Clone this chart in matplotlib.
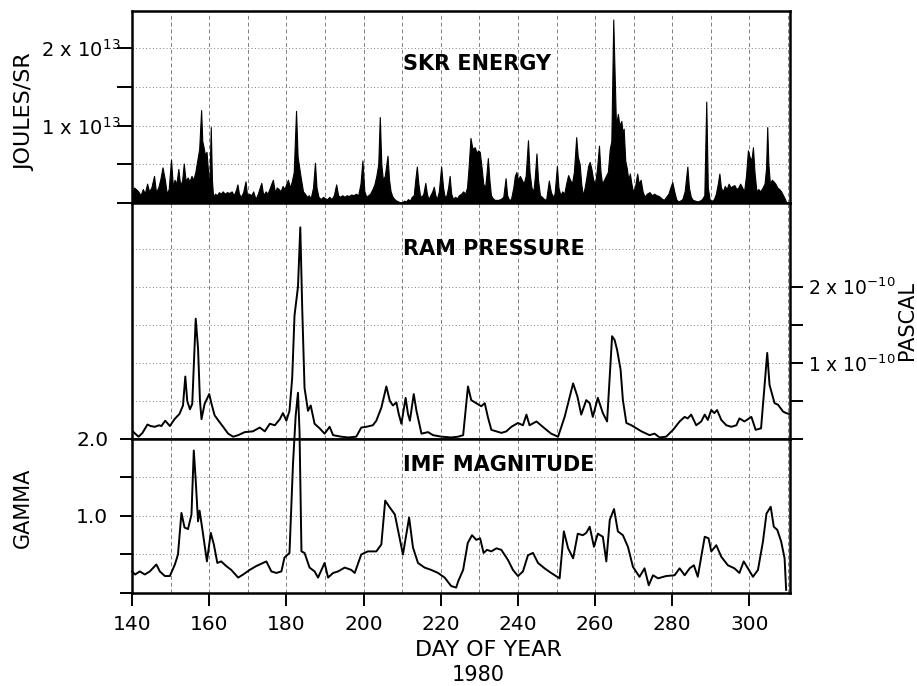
import numpy as np
import matplotlib
matplotlib.use("Agg")
import matplotlib.pyplot as plt

# ----------------- data ----------------- #

# SKR energy, units of 1e13 J/sr
skr_day = [140.0, 140.5, 141.0, 141.6, 142.2, 142.8, 143.3, 143.9, 144.4, 145.0, 145.7, 146.2, 146.8, 147.3,
           147.9, 148.5, 149.0, 149.5, 150.1, 150.6, 151.0, 151.5, 152.0, 152.5, 153.0, 153.4, 153.9, 154.4,
           154.9, 155.4, 155.9, 156.4, 156.9, 157.4, 157.9, 158.2, 158.5, 158.9, 159.3, 159.7, 160.0, 160.4,
           160.7, 161.0, 161.5, 162.0, 162.5, 163.0, 163.5, 164.0, 164.6, 165.2, 165.8, 166.4, 167.0, 167.3,
           167.7, 168.2, 168.8, 169.4, 169.8, 170.3, 170.9, 171.4, 172.0, 172.6, 173.1, 173.5, 174.0, 174.6,
           175.1, 175.6, 176.1, 176.5, 177.0, 177.5, 178.0, 178.5, 179.0, 179.5, 180.0, 180.4, 180.9, 181.4,
           181.9, 182.5, 182.9, 183.4, 183.8, 184.3, 184.8, 185.3, 185.8, 186.3, 186.9, 187.4, 187.8, 188.3,
           188.9, 189.5, 190.0, 190.6, 191.1, 191.7, 192.3, 192.9, 193.4, 193.9, 194.5, 195.0, 195.6, 196.2,
           196.8, 197.4, 198.0, 198.6, 199.2, 199.7, 200.2, 200.7, 201.2, 201.7, 202.3, 202.8, 203.3, 203.8,
           204.2, 204.6, 205.0, 205.5, 206.2, 206.6, 207.0, 207.5, 208.0, 208.5, 209.0, 209.5, 210.0, 210.5,
           211.0, 211.5, 212.0, 212.5, 213.0, 213.4, 213.8, 214.2, 214.6, 215.0, 215.5, 216.0, 216.4, 216.8,
           217.3, 217.8, 218.2, 218.6, 219.0, 219.5, 220.1, 220.6, 221.0, 221.5, 221.9, 222.3, 222.7, 223.2,
           223.7, 224.2, 224.7, 225.3, 225.8, 226.3, 226.8, 227.2, 227.7, 228.2, 228.8, 229.3, 229.7, 230.1,
           230.6, 231.0, 231.5, 231.9, 232.2, 232.6, 233.0, 233.5, 234.0, 234.8, 235.5, 236.2, 236.8, 237.2,
           237.7, 238.2, 238.8, 239.2, 239.6, 240.0, 240.5, 241.0, 241.5, 242.0, 242.6, 243.0, 243.5, 244.0,
           244.4, 244.8, 245.2, 245.7, 246.2, 246.8, 247.3, 248.0, 248.5, 249.0, 249.5, 250.1, 250.5, 251.0,
           251.5, 252.0, 252.5, 253.0, 253.5, 254.0, 254.5, 255.1, 255.5, 256.0, 256.4, 256.8, 257.3, 257.8,
           258.2, 258.6, 259.0, 259.5, 260.0, 260.5, 261.0, 261.4, 261.8, 262.3, 262.8, 263.3, 263.8, 264.2,
           264.7, 265.0, 265.4, 265.9, 266.3, 266.8, 267.1, 267.4, 267.8, 268.2, 268.6, 269.0, 269.4, 269.8,
           270.3, 270.9, 271.3, 271.8, 272.3, 272.8, 273.4, 274.1, 274.7, 275.3, 275.9, 276.5, 277.2, 277.8,
           278.4, 279.0, 279.5, 280.0, 280.5, 281.0, 281.5, 282.0, 282.6, 283.2, 283.9, 284.3, 284.8, 285.3,
           285.9, 286.5, 287.1, 287.7, 288.3, 288.8, 289.2, 289.7, 290.3, 290.8, 291.3, 291.8, 292.2, 292.6,
           293.1, 293.6, 294.1, 294.6, 295.1, 295.6, 296.1, 296.6, 297.1, 297.6, 298.1, 298.6, 299.1, 299.6,
           300.0, 300.5, 300.9, 301.3, 301.8, 302.3, 302.8, 303.4, 303.9, 304.3, 304.6, 304.9, 305.3, 305.8,
           306.2, 306.7, 307.2, 307.7, 308.2, 308.7, 309.2, 309.6]
skr_val = [0.10, 0.20, 0.18, 0.15, 0.10, 0.18, 0.12, 0.25, 0.15, 0.20, 0.35, 0.14, 0.20, 0.30,
           0.46, 0.30, 0.12, 0.18, 0.56, 0.20, 0.30, 0.25, 0.44, 0.22, 0.30, 0.51, 0.28, 0.33,
           0.28, 0.35, 0.30, 0.40, 0.55, 0.70, 1.20, 0.80, 0.73, 0.62, 0.66, 0.40, 0.15, 0.98,
           0.30, 0.08, 0.12, 0.10, 0.14, 0.12, 0.15, 0.12, 0.14, 0.13, 0.15, 0.10, 0.18, 0.24,
           0.12, 0.08, 0.14, 0.28, 0.10, 0.12, 0.10, 0.15, 0.05, 0.12, 0.20, 0.26, 0.10, 0.15,
           0.12, 0.18, 0.25, 0.30, 0.14, 0.20, 0.18, 0.15, 0.22, 0.18, 0.25, 0.30, 0.20, 0.28,
           0.40, 1.19, 0.60, 0.43, 0.30, 0.15, 0.12, 0.08, 0.10, 0.06, 0.20, 0.52, 0.20, 0.08,
           0.05, 0.08, 0.06, 0.05, 0.08, 0.05, 0.10, 0.24, 0.10, 0.08, 0.10, 0.08, 0.10, 0.09,
           0.11, 0.10, 0.12, 0.10, 0.25, 0.55, 0.15, 0.08, 0.10, 0.12, 0.18, 0.24, 0.35, 0.50,
           1.11, 0.50, 0.30, 0.35, 0.61, 0.30, 0.15, 0.08, 0.05, 0.03, 0.02, 0.00, 0.01, 0.03,
           0.02, 0.05, 0.03, 0.08, 0.10, 0.30, 0.47, 0.25, 0.10, 0.08, 0.12, 0.26, 0.12, 0.05,
           0.10, 0.15, 0.21, 0.10, 0.05, 0.15, 0.47, 0.20, 0.08, 0.10, 0.20, 0.35, 0.12, 0.05,
           0.08, 0.06, 0.10, 0.12, 0.15, 0.12, 0.20, 0.45, 0.84, 0.70, 0.72, 0.65, 0.68, 0.66,
           0.45, 0.25, 0.20, 0.40, 0.58, 0.30, 0.10, 0.06, 0.04, 0.04, 0.05, 0.08, 0.32, 0.10,
           0.04, 0.05, 0.20, 0.35, 0.40, 0.30, 0.35, 0.30, 0.25, 0.35, 0.81, 0.40, 0.20, 0.15,
           0.35, 0.64, 0.30, 0.10, 0.08, 0.05, 0.04, 0.29, 0.15, 0.08, 0.12, 0.48, 0.20, 0.10,
           0.15, 0.12, 0.25, 0.36, 0.30, 0.25, 0.40, 0.85, 0.60, 0.50, 0.25, 0.10, 0.20, 0.35,
           0.48, 0.53, 0.45, 0.30, 0.25, 0.45, 0.74, 0.40, 0.25, 0.30, 0.35, 0.40, 0.70, 0.80,
           2.37, 1.77, 1.00, 1.15, 1.00, 1.06, 0.90, 0.96, 0.55, 0.45, 0.30, 0.38, 0.25, 0.15,
           0.20, 0.38, 0.25, 0.30, 0.15, 0.08, 0.12, 0.14, 0.10, 0.12, 0.10, 0.09, 0.06, 0.04,
           0.08, 0.12, 0.20, 0.27, 0.15, 0.05, 0.02, 0.03, 0.05, 0.15, 0.47, 0.20, 0.08, 0.04,
           0.03, 0.02, 0.03, 0.05, 0.10, 1.31, 0.20, 0.04, 0.03, 0.05, 0.12, 0.25, 0.38, 0.20,
           0.15, 0.22, 0.18, 0.25, 0.20, 0.22, 0.23, 0.18, 0.20, 0.25, 0.20, 0.15, 0.35, 0.68,
           0.60, 0.55, 0.72, 0.40, 0.15, 0.18, 0.15, 0.20, 0.25, 0.45, 0.98, 0.50, 0.25, 0.30,
           0.28, 0.25, 0.20, 0.18, 0.15, 0.10, 0.05, 0.00]

# solar wind ram pressure, units of 1e-10 Pa
ram_day = [140.0, 140.8, 141.7, 142.7, 144.0, 144.8, 145.9, 147.0, 147.6, 148.6, 149.8, 151.0, 152.3, 153.2,
           153.8, 154.3, 155.0, 155.6, 156.5, 157.1, 157.6, 158.0, 158.8, 160.0, 160.6, 161.4, 162.4, 163.6,
           164.9, 166.2, 167.5, 169.2, 171.3, 173.1, 174.4, 175.7, 177.0, 178.3, 179.1, 180.0, 180.8, 181.5,
           182.1, 183.0, 183.6, 184.1, 184.7, 185.6, 186.3, 187.3, 188.6, 189.9, 191.2, 192.1, 194.2, 196.0,
           198.1, 199.4, 200.7, 202.4, 203.3, 204.6, 205.9, 206.8, 207.6, 208.5, 209.1, 209.8, 210.9, 211.5,
           212.0, 213.0, 213.7, 215.0, 216.7, 218.0, 220.2, 222.7, 224.5, 225.8, 227.05, 227.9, 229.2, 230.5,
           231.4, 232.2, 233.1, 234.4, 235.7, 237.0, 238.3, 240.0, 241.3, 242.2, 243.0, 244.8, 246.9, 248.6,
           250.4, 252.1, 254.3, 255.4, 256.4, 257.7, 258.6, 259.4, 260.7, 262.0, 263.1, 264.4, 265.05, 265.7,
           266.6, 267.2, 268.1, 269.4, 270.7, 272.0, 274.1, 275.4, 276.7, 278.4, 280.2, 281.9, 283.2, 284.0,
           284.9, 286.2, 287.5, 288.4, 289.2, 290.1, 290.9, 291.6, 292.7, 294.0, 295.3, 296.6, 297.4, 298.7,
           300.5, 301.6, 303.0, 304.6, 305.2, 306.5, 307.4, 308.7, 309.5, 310.2]
ram_val = [0.11, 0.07, 0.03, 0.08, 0.19, 0.17, 0.16, 0.18, 0.17, 0.24, 0.17, 0.26, 0.33, 0.44,
           0.82, 0.50, 0.39, 0.46, 1.58, 1.19, 0.50, 0.26, 0.46, 0.59, 0.46, 0.31, 0.24, 0.16,
           0.07, 0.03, 0.05, 0.09, 0.10, 0.15, 0.10, 0.20, 0.18, 0.26, 0.34, 0.24, 0.37, 0.80,
           1.62, 2.00, 2.78, 1.71, 0.67, 0.37, 0.44, 0.20, 0.14, 0.07, 0.16, 0.05, 0.03, 0.02,
           0.03, 0.15, 0.16, 0.18, 0.24, 0.41, 0.69, 0.50, 0.44, 0.48, 0.33, 0.20, 0.54, 0.33,
           0.24, 0.59, 0.37, 0.07, 0.09, 0.05, 0.03, 0.02, 0.03, 0.05, 0.69, 0.51, 0.47, 0.43,
           0.47, 0.29, 0.12, 0.10, 0.08, 0.10, 0.16, 0.21, 0.18, 0.32, 0.18, 0.23, 0.14, 0.07,
           0.03, 0.29, 0.73, 0.56, 0.32, 0.51, 0.47, 0.29, 0.54, 0.34, 0.23, 1.35, 1.30, 1.17,
           0.91, 0.51, 0.21, 0.18, 0.14, 0.10, 0.05, 0.07, 0.02, 0.03, 0.12, 0.23, 0.29, 0.27,
           0.32, 0.18, 0.23, 0.32, 0.25, 0.38, 0.34, 0.38, 0.25, 0.18, 0.16, 0.18, 0.27, 0.23,
           0.29, 0.12, 0.14, 1.13, 0.71, 0.47, 0.45, 0.36, 0.34, 0.33]

# IMF magnitude, gamma
imf_day = [140.0, 140.8, 142.0, 143.3, 144.6, 146.3, 147.2, 148.5, 149.8, 151.1, 151.9, 152.8, 153.6, 154.5,
           155.4, 156.0, 156.5, 157.1, 157.5, 158.3, 159.4, 160.4, 161.2, 162.1, 163.1, 164.4, 165.7, 167.5,
           168.8, 170.5, 172.2, 173.9, 174.8, 176.1, 177.4, 178.7, 179.5, 180.8, 181.7, 182.4, 183.0, 183.4,
           183.9, 184.7, 186.0, 187.3, 188.2, 189.9, 190.8, 192.1, 193.4, 195.1, 196.8, 197.7, 199.4, 201.1,
           203.3, 204.6, 205.6, 206.8, 208.1, 209.3, 210.2, 211.8, 212.8, 214.1, 215.8, 217.5, 219.3, 221.0,
           222.7, 224.0, 224.5, 225.8, 227.0, 228.1, 229.2, 230.2, 231.1, 232.0, 233.1, 234.4, 235.7, 237.4,
           238.7, 240.0, 241.3, 242.6, 243.9, 245.2, 246.9, 248.6, 250.8, 251.9, 253.0, 254.3, 255.5, 256.8,
           257.7, 258.6, 259.7, 260.7, 262.0, 262.9, 263.8, 264.9, 265.9, 267.2, 268.5, 269.8, 271.5, 272.8,
           273.9, 275.0, 276.3, 278.4, 280.6, 281.9, 283.2, 284.5, 285.6, 286.6, 288.4, 289.4, 290.1, 291.4,
           292.7, 294.4, 296.1, 297.4, 298.5, 299.6, 300.9, 302.2, 303.5, 304.4, 305.5, 306.3, 307.2, 308.2,
           309.1, 309.5]
imf_val = [0.28, 0.24, 0.28, 0.24, 0.28, 0.37, 0.28, 0.22, 0.22, 0.37, 0.50, 1.04, 0.85, 0.83,
           1.02, 1.85, 1.46, 0.93, 1.07, 0.80, 0.41, 0.78, 0.63, 0.39, 0.41, 0.35, 0.30, 0.20,
           0.24, 0.30, 0.35, 0.39, 0.41, 0.28, 0.26, 0.28, 0.46, 0.52, 1.67, 2.30, 2.60, 2.10,
           0.54, 0.52, 0.33, 0.28, 0.20, 0.39, 0.20, 0.26, 0.28, 0.33, 0.30, 0.26, 0.50, 0.54,
           0.54, 0.63, 1.20, 1.11, 1.02, 0.72, 0.50, 0.98, 0.59, 0.39, 0.33, 0.30, 0.26, 0.20,
           0.09, 0.07, 0.15, 0.30, 0.65, 0.75, 0.69, 0.71, 0.52, 0.56, 0.54, 0.58, 0.56, 0.43,
           0.30, 0.22, 0.28, 0.49, 0.52, 0.39, 0.32, 0.26, 0.19, 0.80, 0.58, 0.45, 0.77, 0.75,
           0.78, 0.86, 0.60, 0.77, 0.73, 0.41, 0.95, 1.09, 0.80, 0.75, 0.60, 0.34, 0.21, 0.32,
           0.10, 0.23, 0.19, 0.22, 0.23, 0.32, 0.23, 0.32, 0.36, 0.21, 0.73, 0.71, 0.54, 0.62,
           0.47, 0.36, 0.32, 0.26, 0.41, 0.32, 0.21, 0.30, 0.67, 1.03, 1.12, 0.86, 0.82, 0.67,
           0.45, 0.04]

x_ticks = [140, 160, 180, 200, 220, 240, 260, 280, 300]
skr_ticks = [0, 0.5, 1.0, 1.5, 2.0]
skr_labels = ['', '', '1 x 10$^{13}$', '', '2 x 10$^{13}$']
ram_ticks = [0, 0.5, 1.0, 1.5, 2.0]
ram_labels = ['', '', '1 x 10$^{-10}$', '', '2 x 10$^{-10}$']
imf_ticks = [0, 0.5, 1.0, 1.5, 2.0]
imf_labels = ['', '', '1.0', '', '2.0']

# ----------------- figure ----------------- #

plt.rcParams['font.family'] = ['DejaVu Sans']
plt.rcParams['mathtext.fontset'] = 'dejavusans'

fig = plt.figure(figsize=(9.17, 6.86), dpi=100)
left, width = 0.144, 0.7175
ax1 = fig.add_axes([left, 0.7041, width, 0.2799])
ax2 = fig.add_axes([left, 0.3601, width, 0.3440])
ax3 = fig.add_axes([left, 0.1356, width, 0.2245])

XMIN, XMAX = 140, 310.5
fs = 14.5


def style_axes(ax, ymax, hgrid):
    ax.set_xlim(XMIN, XMAX)
    ax.set_ylim(0, ymax)
    for s in ax.spines.values():
        s.set_linewidth(1.8)
    for xv in np.arange(150, 311, 10):
        ax.axvline(xv, color='0.5', lw=0.7, ls=(0, (4, 3)), zorder=0)
    for yv in hgrid:
        ax.axhline(yv, color='0.5', lw=0.7, ls=(0, (1, 2.5)), zorder=0)
    ax.tick_params(axis='both', direction='out', width=1.4, length=9, labelsize=fs)
    ax.tick_params(axis='x', bottom=False, labelbottom=False)


# --- SKR energy ---
style_axes(ax1, 2.48, [0.5, 1.0, 1.5, 2.0])
ax1.fill_between(skr_day, skr_val, 0, color='black', lw=0.8, zorder=2)
ax1.set_yticks(skr_ticks)
ax1.set_yticklabels(skr_labels)
ax1.tick_params(axis='y', length=11, pad=-3, labelsize=14)
ax1.text(210.2, 1.80, 'SKR ENERGY', fontsize=15, fontweight='bold', va='center', ha='left')

# --- ram pressure ---
style_axes(ax2, 3.1, [0.5, 1.0, 1.5, 2.0, 2.5])
ax2.plot(ram_day, ram_val, color='black', lw=1.4, zorder=2)
ax2.yaxis.tick_right()
ax2.set_yticks(ram_ticks)
ax2.set_yticklabels(ram_labels)
ax2.tick_params(axis='y', pad=4, labelsize=13.5)
ax2.text(210.2, 2.50, 'RAM PRESSURE', fontsize=15, fontweight='bold', va='center', ha='left')

# --- IMF magnitude ---
style_axes(ax3, 2.0, [0.5, 1.0, 1.5])
ax3.plot(imf_day, imf_val, color='black', lw=1.4, zorder=5, clip_on=False)
ax3.set_yticks(imf_ticks)
ax3.set_yticklabels(imf_labels)
ax3.tick_params(axis='y', pad=8)
ax3.set_xticks(x_ticks)
ax3.tick_params(axis='x', bottom=True, labelbottom=True, pad=7)
ax3.text(210.2, 1.66, 'IMF MAGNITUDE', fontsize=15, fontweight='bold', va='center', ha='left')

# axis titles
fig.text(0.027, 0.837, 'JOULES/SR', rotation=90, fontsize=16, ha='center', va='center')
fig.text(0.025, 0.2595, 'GAMMA', rotation=90, fontsize=15, ha='center', va='center')
fig.text(0.989, 0.533, 'PASCAL', rotation=90, fontsize=15, ha='center', va='center')
fig.text(0.533, 0.0525, 'DAY OF YEAR', fontsize=16, ha='center', va='center')
fig.text(0.522, 0.016, '1980', fontsize=15, ha='center', va='center')

fig.savefig('out.png', dpi=100)
